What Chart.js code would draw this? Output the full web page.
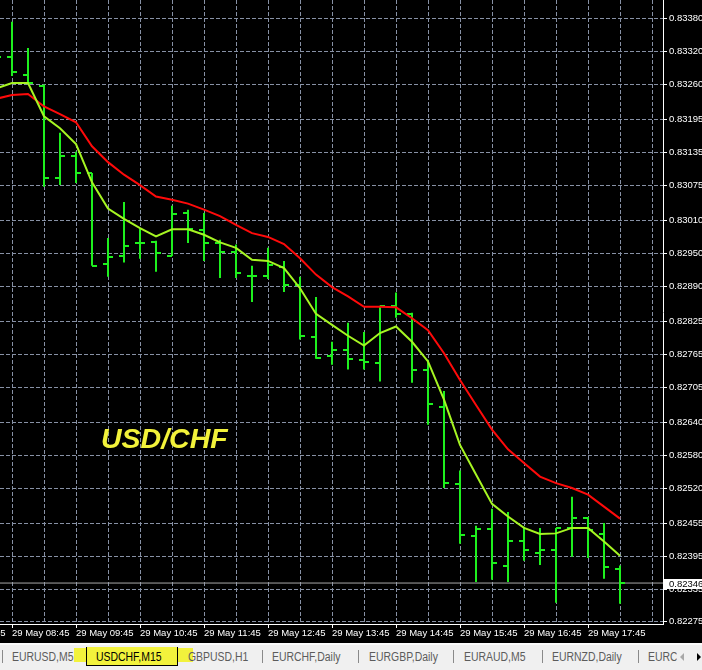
<!DOCTYPE html>
<html>
<head>
<meta charset="utf-8">
<title>USDCHF,M15</title>
<script src="https://cdn.jsdelivr.net/npm/chart.js@4.4.1/dist/chart.umd.min.js"></script>
<style>
  html, body { margin: 0; padding: 0; background: #000; overflow: hidden; }
  #wrap { position: relative; width: 702px; height: 670px; }
  #grafica { position: absolute; left: 0; top: 0; }
  #tabs { position: absolute; left: 0; top: 643px; width: 702px; height: 27px; background: #f0f0f0; overflow: hidden;
          font-family: 'Liberation Sans', Arial, sans-serif; font-size: 12px; color: #5c5c5c; }
  #tabs span { position: absolute; top: 8px; line-height: 12px; white-space: nowrap; transform: scaleX(0.87); transform-origin: 0 0; }
  .linea { position: absolute; left: 0; top: 0; width: 702px; height: 2px; background: #fbfbfb; }
  .sep { position: absolute; top: 7px; width: 1px; height: 13px; background: #8a8a8a; }
  .hl { position: absolute; left: 74px; top: 5px; width: 119px; height: 14px; background: #f2f23c; }
  .sel { position: absolute; left: 86px; top: 4px; width: 90px; height: 18px; background: #f2f23c; border: 1px solid #000; border-top: none; }
  .flecha { position: absolute; top: 10px; width: 0; height: 0; border-top: 4px solid transparent; border-bottom: 4px solid transparent; }
</style>
</head>
<body>
<div id="wrap">
  <canvas id="grafica" width="702" height="643"></canvas>
  <div id="tabs">
    <div class="linea"></div>
    <div class="sep" style="left:2px"></div>
    <span style="left:12px">EURUSD,M5</span>
    <div class="hl"></div>
    <div class="sel"></div>
    <span style="left:96px;color:#000">USDCHF,M15</span>
    <span style="left:188px">GBPUSD,H1</span>
    <div class="sep" style="left:262px"></div>
    <span style="left:272px">EURCHF,Daily</span>
    <div class="sep" style="left:358px"></div>
    <span style="left:369px">EURGBP,Daily</span>
    <div class="sep" style="left:453px"></div>
    <span style="left:464px">EURAUD,M5</span>
    <div class="sep" style="left:542px"></div>
    <span style="left:552px">EURNZD,Daily</span>
    <div class="sep" style="left:638px"></div>
    <span style="left:648px;width:33px;overflow:hidden">EURCHF,M5</span>
    <div class="flecha" style="left:680px;border-right:4px solid #a8a8a8"></div>
    <div class="flecha" style="left:697px;border-left:4px solid #000"></div>
  </div>
</div>
<script>
// velas M15 desde 29 May 08:30 (una por cada 15 min)
const opens  = [0.83293, 0.83310, 0.83277, 0.83257, 0.83088, 0.83129, 0.83097, 0.82931, 0.82945, 0.82969,
                0.82971, 0.82945, 0.83024, 0.82993, 0.82969, 0.82953, 0.82909, 0.82909, 0.82925, 0.82892,
                0.82797, 0.82762, 0.82773, 0.82755, 0.82749, 0.82854, 0.82839, 0.82737, 0.82669, 0.82528,
                0.82433, 0.82445, 0.82378, 0.82423, 0.82401, 0.82407, 0.82447, 0.82465, 0.82436, 0.82372];
const highs  = [0.83323, 0.83374, 0.83326, 0.83259, 0.83171, 0.83136, 0.83097, 0.82978, 0.83044, 0.82995,
                0.82973, 0.83037, 0.83030, 0.83024, 0.82975, 0.82966, 0.82927, 0.82960, 0.82936, 0.82907,
                0.82870, 0.82788, 0.82823, 0.82806, 0.82854, 0.82878, 0.82841, 0.82755, 0.82698, 0.82552,
                0.82451, 0.82482, 0.82476, 0.82449, 0.82447, 0.82447, 0.82504, 0.82467, 0.82456, 0.82378];
const lows   = [0.83286, 0.83275, 0.83259, 0.83072, 0.83075, 0.83079, 0.82927, 0.82907, 0.82933, 0.82940,
                0.82916, 0.82945, 0.82969, 0.82936, 0.82905, 0.82905, 0.82861, 0.82903, 0.82879, 0.82792,
                0.82757, 0.82746, 0.82737, 0.82737, 0.82715, 0.82832, 0.82713, 0.82636, 0.82520, 0.82418,
                0.82348, 0.82352, 0.82348, 0.82387, 0.82379, 0.82310, 0.82394, 0.82392, 0.82354, 0.82308];
const closes = [0.83310, 0.83282, 0.83262, 0.83088, 0.83129, 0.83097, 0.82927, 0.82944, 0.82964, 0.82969,
                0.82951, 0.83022, 0.82995, 0.82969, 0.82953, 0.82914, 0.82909, 0.82929, 0.82892, 0.82799,
                0.82759, 0.82773, 0.82757, 0.82751, 0.82854, 0.82839, 0.82737, 0.82674, 0.82530, 0.82434,
                0.82445, 0.82383, 0.82423, 0.82407, 0.82407, 0.82447, 0.82465, 0.82444, 0.82376, 0.82346];

// medias moviles (rapida verde-amarilla, lenta roja)
const maFast = [0.83252, 0.83262, 0.83262, 0.83201, 0.83179, 0.83150, 0.83080, 0.83032, 0.83013, 0.82996,
                0.82981, 0.82994, 0.82994, 0.82984, 0.82970, 0.82960, 0.82938, 0.82936, 0.82923, 0.82886,
                0.82839, 0.82819, 0.82799, 0.82781, 0.82804, 0.82816, 0.82788, 0.82752, 0.82682, 0.82599,
                0.82545, 0.82491, 0.82468, 0.82447, 0.82436, 0.82437, 0.82447, 0.82447, 0.82422, 0.82396];
const maSlow = [0.83233, 0.83240, 0.83242, 0.83219, 0.83205, 0.83190, 0.83146, 0.83117, 0.83094, 0.83075,
                0.83054, 0.83048, 0.83041, 0.83030, 0.83018, 0.83002, 0.82987, 0.82980, 0.82967, 0.82941,
                0.82911, 0.82888, 0.82871, 0.82852, 0.82852, 0.82851, 0.82831, 0.82809, 0.82767, 0.82718,
                0.82672, 0.82627, 0.82591, 0.82566, 0.82541, 0.82529, 0.82520, 0.82508, 0.82486, 0.82464];

// etiquetas de los ejes
const yTicks = [0.82275, 0.82335, 0.82395, 0.82455, 0.82520, 0.82580, 0.82640, 0.82705, 0.82765, 0.82825,
                0.82890, 0.82950, 0.83010, 0.83075, 0.83135, 0.83195, 0.83260, 0.83320, 0.83380];
const labelBars = [-3, 1, 5, 9, 13, 17, 21, 25, 29, 33, 37];
const labelText = ['29 May 07:45', '29 May 08:45', '29 May 09:45', '29 May 10:45', '29 May 11:45', '29 May 12:45',
                   '29 May 13:45', '29 May 14:45', '29 May 15:45', '29 May 16:45', '29 May 17:45'];

const xMin = 0.25, xMax = 41.6875;
const yMin = 0.82271, yMax = 0.83414;
const bid = closes[closes.length - 1];

const barColor = '#1ef01e';
const gridColor = '#8791a5';

// lineas de grid cada 2 velas
const gridBars = [];
for (let i = -3; i <= 41; i += 2) gridBars.push(i);

// marcas de apertura (izquierda) y cierre (derecha)
function crearMarca(lado) {
    const c = document.createElement('canvas');
    c.width = 10;
    c.height = 2;
    const g = c.getContext('2d');
    g.fillStyle = barColor;
    g.fillRect(lado === 'open' ? 0 : 5, 0, 5, 2);
    return c;
}

const etiquetas = {
    id: 'etiquetas',
    afterDraw(chart) {
        const ctx = chart.ctx;
        const y = chart.scales.y.getPixelForValue(bid);
        const left = chart.chartArea.right + 1;
        ctx.save();
        ctx.fillStyle = '#ffffff';
        ctx.fillRect(left, Math.round(y) - 4, 702 - left, 10);
        ctx.fillStyle = '#000000';
        ctx.font = '9.5px "Liberation Sans"';
        ctx.textBaseline = 'middle';
        ctx.textAlign = 'left';
        ctx.fillText(bid.toFixed(5), chart.chartArea.right + 6, Math.round(y) + 1);

        ctx.fillStyle = '#f2f23a';
        ctx.font = 'italic bold 28.5px "Liberation Sans"';
        ctx.textBaseline = 'alphabetic';
        ctx.fillText('USD/CHF', 101, 448);
        ctx.restore();
    }
};

const ctx = document.getElementById('grafica').getContext('2d');

new Chart(ctx, {
    type: 'bar',
    data: {
        datasets: [
            {
                type: 'line',
                label: 'Bid',
                data: [{x: xMin, y: bid}, {x: xMax, y: bid}],
                borderColor: '#a8a8a8',
                borderWidth: 1,
                pointRadius: 0,
                order: 6
            },
            {
                type: 'bar',
                label: 'Rango',
                data: highs.map((h, i) => ({x: i, y: [lows[i], h]})),
                backgroundColor: barColor,
                barThickness: 2,
                borderWidth: 0,
                inflateAmount: 0,
                order: 5
            },
            {
                type: 'line',
                label: 'Open',
                data: opens.map((o, i) => ({x: i, y: o})),
                showLine: false,
                pointStyle: crearMarca('open'),
                pointRadius: 6,
                order: 4
            },
            {
                type: 'line',
                label: 'Close',
                data: closes.map((c, i) => ({x: i, y: c})),
                showLine: false,
                pointStyle: crearMarca('close'),
                pointRadius: 6,
                order: 3
            },
            {
                type: 'line',
                label: 'MA lenta',
                data: maSlow.map((v, i) => ({x: i, y: v})),
                borderColor: '#ff0a0a',
                borderWidth: 2,
                pointRadius: 0,
                tension: 0,
                order: 2
            },
            {
                type: 'line',
                label: 'MA rapida',
                data: maFast.map((v, i) => ({x: i, y: v})),
                borderColor: '#a6f522',
                borderWidth: 2,
                pointRadius: 0,
                tension: 0,
                order: 1
            }
        ]
    },
    options: {
        responsive: false,
        animation: false,
        events: [],
        layout: { padding: 0, autoPadding: false },
        plugins: {
            legend: { display: false },
            tooltip: { enabled: false }
        },
        scales: {
            x: {
                type: 'linear',
                position: 'bottom',
                min: xMin,
                max: xMax,
                offset: false,
                afterBuildTicks: (s) => { s.ticks = gridBars.map(v => ({value: v})); },
                afterFit: (s) => { s.height = 19; s.paddingLeft = 0; s.paddingRight = 0; },
                grid: {
                    offset: false,
                    color: gridColor,
                    lineWidth: 1,
                    tickLength: 4,
                    tickColor: (c) => (c.tick && labelBars.includes(c.tick.value)) ? '#ffffff' : 'rgba(0,0,0,0)'
                },
                border: { color: '#ffffff', width: 1, dash: [4, 2] },
                ticks: {
                    autoSkip: false,
                    maxRotation: 0,
                    minRotation: 0,
                    align: 'start',
                    padding: 0,
                    color: '#ffffff',
                    font: { family: 'Liberation Sans', size: 9.5 },
                    callback: (v) => {
                        const k = labelBars.indexOf(v);
                        return k >= 0 ? labelText[k] : '';
                    }
                }
            },
            y: {
                type: 'linear',
                position: 'right',
                min: yMin,
                max: yMax,
                afterBuildTicks: (s) => { s.ticks = yTicks.map(v => ({value: v})); },
                afterFit: (s) => { s.width = 39; s.paddingTop = 0; s.paddingBottom = 0; },
                grid: {
                    color: gridColor,
                    lineWidth: 1,
                    tickLength: 4,
                    tickColor: '#ffffff'
                },
                border: { color: '#ffffff', width: 1, dash: [4, 2] },
                ticks: {
                    autoSkip: false,
                    padding: 2,
                    color: '#ffffff',
                    font: { family: 'Liberation Sans', size: 9.5 },
                    callback: (v) => Number(v).toFixed(5)
                }
            }
        }
    },
    plugins: [etiquetas]
});
</script>
</body>
</html>
